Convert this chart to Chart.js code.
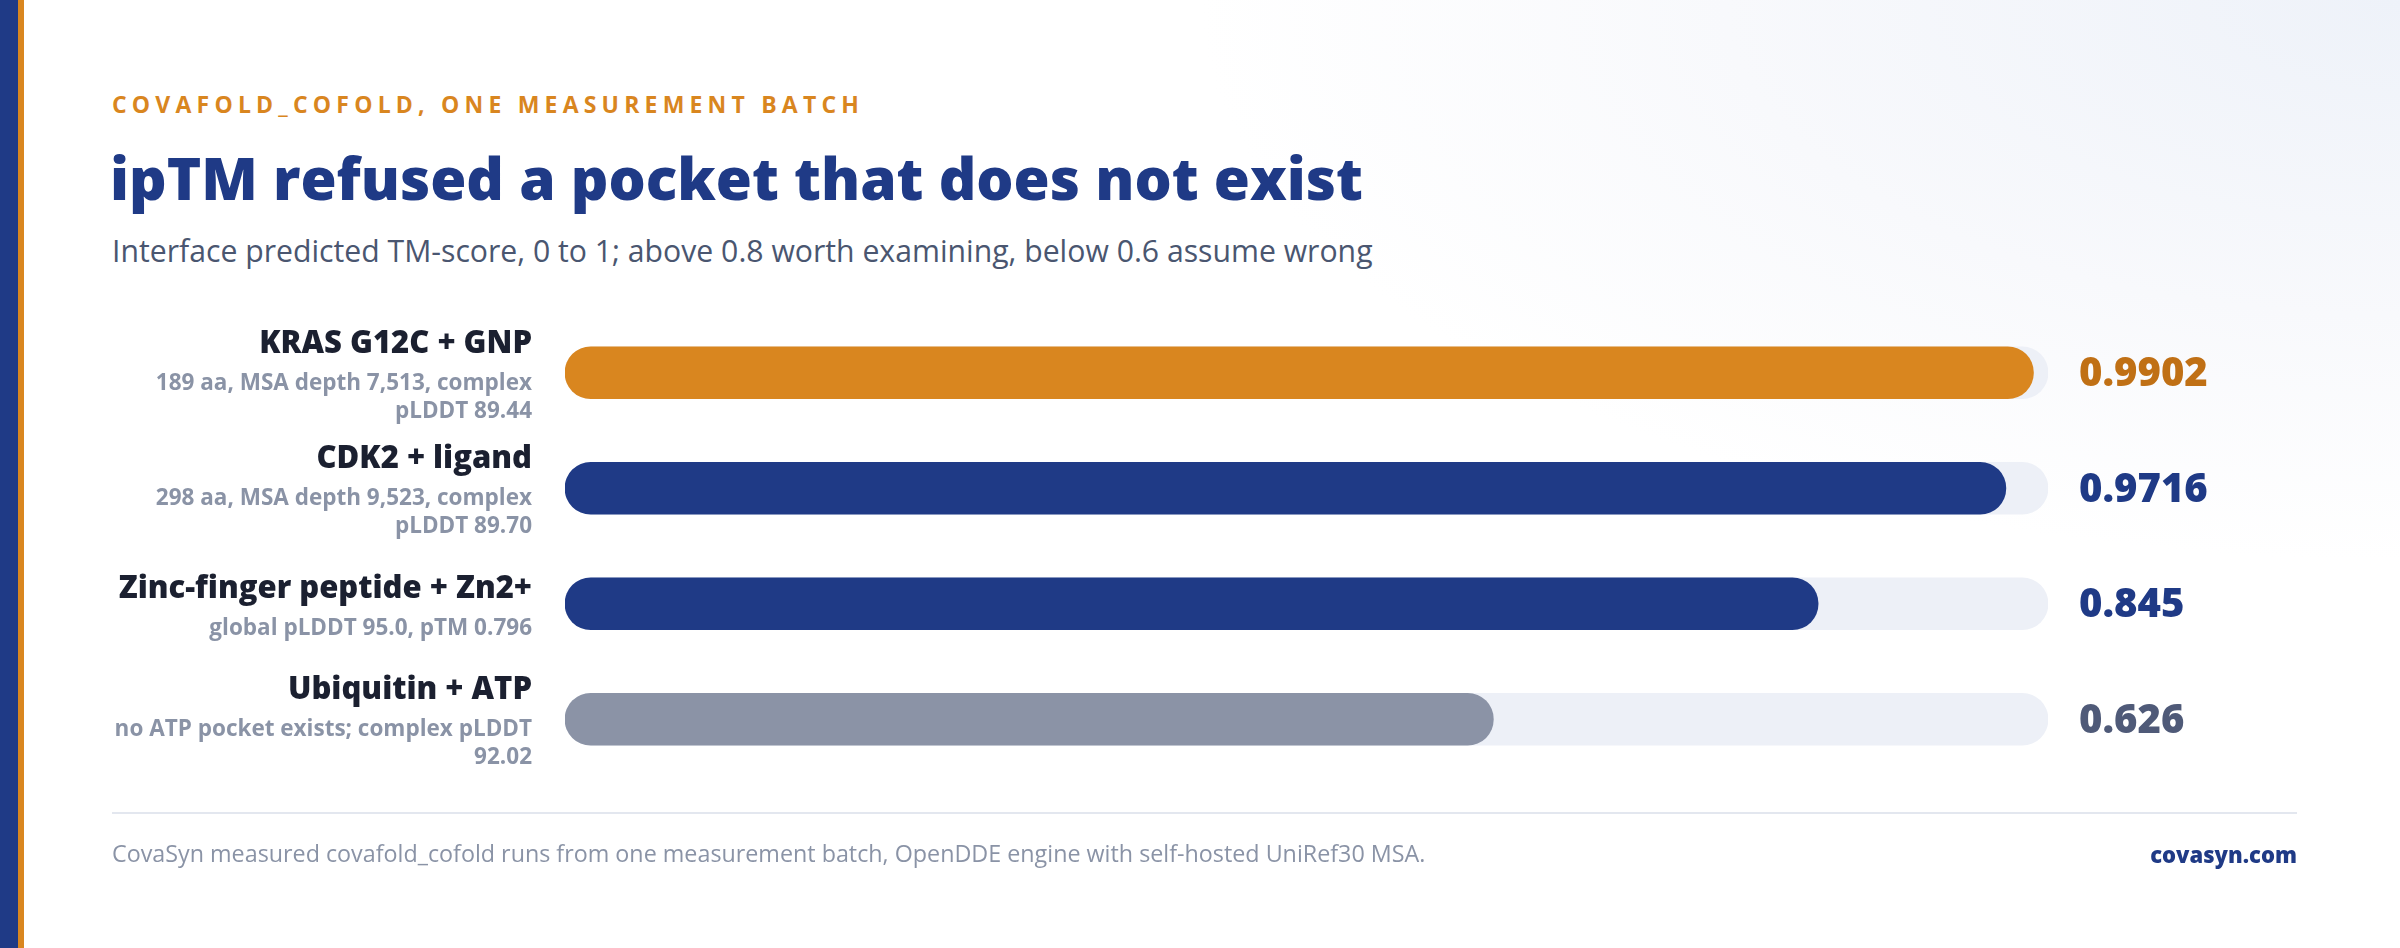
<!DOCTYPE html>
<html>
<head>
<meta charset="utf-8">
<script src="https://cdn.jsdelivr.net/npm/chart.js@4.4.1/dist/chart.umd.min.js"></script>
<style>
  html, body { margin: 0; padding: 0; }
  body {
    width: 2400px; height: 948px; position: relative; overflow: hidden;
    font-family: "Open Sans", "Noto Sans", sans-serif;
    background: radial-gradient(ellipse 1500px 700px at 100% 0%, #eef2f9 0%, #f8f9fc 45%, #ffffff 80%);
  }
  .stripe-blue { position: absolute; left: 0; top: 0; width: 18px; height: 948px; background: #1f3a86; }
  .stripe-orange { position: absolute; left: 18px; top: 0; width: 6px; height: 948px; background: #d9861f; }
  .txt { position: absolute; white-space: nowrap; line-height: 1; }
  #eyebrow { left: 112px; top: 93px; font-size: 23px; font-weight: 700; color: #d9861f; letter-spacing: 5.2px; }
  #title { left: 110px; top: 148px; font-size: 58.5px; font-weight: 800; color: #1f3a86; }
  #subtitle { left: 112px; top: 236px; font-size: 30.2px; font-weight: 500; color: #4a5670; }
  #rule { position: absolute; left: 112px; top: 812px; width: 2185px; height: 2px; background: #e3e7ef; }
  #footnote { left: 112px; top: 842px; font-size: 23.3px; color: #8a93a6; }
  #brand { right: 103px; top: 843px; font-size: 22px; font-weight: 800; color: #1f3a86; }
  #chart-wrap { position: absolute; left: 0; top: 0; width: 2400px; height: 948px; }
</style>
</head>
<body>
<div class="stripe-blue"></div>
<div class="stripe-orange"></div>
<div class="txt" id="eyebrow">COVAFOLD_COFOLD, ONE MEASUREMENT BATCH</div>
<div class="txt" id="title">ipTM refused a pocket that does not exist</div>
<div class="txt" id="subtitle">Interface predicted TM-score, 0 to 1; above 0.8 worth examining, below 0.6 assume wrong</div>
<div id="chart-wrap"><canvas id="iptm-chart"></canvas></div>
<div id="rule"></div>
<div class="txt" id="footnote">CovaSyn measured covafold_cofold runs from one measurement batch, OpenDDE engine with self-hosted UniRef30 MSA.</div>
<div class="txt" id="brand">covasyn.com</div>

<script>
// --- DATOS ---
const complexes = ["KRAS G12C + GNP", "CDK2 + ligand", "Zinc-finger peptide + Zn2+", "Ubiquitin + ATP"];
const complexNotes = [
  ["189 aa, MSA depth 7,513, complex", "pLDDT 89.44"],
  ["298 aa, MSA depth 9,523, complex", "pLDDT 89.70"],
  ["global pLDDT 95.0, pTM 0.796"],
  ["no ATP pocket exists; complex pLDDT", "92.02"]
];
const iptmValues = [0.9902, 0.9716, 0.845, 0.626];
const valueLabels = ["0.9902", "0.9716", "0.845", "0.626"];
const scaleMax = [1, 1, 1, 1];

// --- ESTILOS ---
const barColors = ["#d9861f", "#1f3a86", "#1f3a86", "#8b93a6"];
const labelColors = ["#c07015", "#1f3a86", "#1f3a86", "#4f5a78"];
const TRACK_COLOR = "#edf0f7";
const FONT = '"Open Sans", "Noto Sans", sans-serif';

// --- PLUGIN: etiquetas a la izquierda y valores a la derecha ---
const rowLabels = {
  id: "rowLabels",
  afterDatasetsDraw(chart) {
    const { ctx, chartArea, scales } = chart;
    ctx.save();
    complexes.forEach((name, i) => {
      const cy = scales.y.getPixelForValue(i);
      const notes = complexNotes[i];
      const span = 37 + 28 * (notes.length - 1);
      const titleBase = cy + 12.5 - span / 2;
      const rightX = chartArea.left - 33;

      ctx.textAlign = "right";
      ctx.textBaseline = "alphabetic";
      ctx.fillStyle = "#1b2030";
      ctx.font = `800 31px ${FONT}`;
      ctx.fillText(name, rightX, titleBase);

      ctx.fillStyle = "#8a93a6";
      ctx.font = `700 22.5px ${FONT}`;
      notes.forEach((line, j) => ctx.fillText(line, rightX, titleBase + 37 + 28 * j));

      ctx.textAlign = "left";
      ctx.textBaseline = "middle";
      ctx.fillStyle = labelColors[i];
      ctx.font = `800 40px ${FONT}`;
      ctx.fillText(valueLabels[i], chartArea.right + 31, cy + 2);
    });
    ctx.restore();
  }
};

const renderChart = () => {
  const canvas = document.getElementById("iptm-chart");
  if (!canvas) return;
  new Chart(canvas.getContext("2d"), {
    type: "bar",
    data: {
      labels: complexes,
      datasets: [
        {
          label: "ipTM",
          data: iptmValues,
          backgroundColor: barColors,
          borderRadius: 26,
          borderSkipped: false,
          barThickness: 52,
          grouped: false,
          order: 1
        },
        {
          label: "track",
          data: scaleMax,
          backgroundColor: TRACK_COLOR,
          borderRadius: 26,
          borderSkipped: false,
          barThickness: 52,
          grouped: false,
          order: 2
        }
      ]
    },
    options: {
      indexAxis: "y",
      responsive: true,
      maintainAspectRatio: false,
      animation: false,
      layout: { padding: { left: 565, right: 352, top: 315, bottom: 171 } },
      scales: {
        x: { display: false, min: 0, max: 1 },
        y: { display: false }
      },
      plugins: { legend: { display: false }, tooltip: { enabled: false } }
    },
    plugins: [rowLabels]
  });
};

renderChart();
</script>
</body>
</html>
